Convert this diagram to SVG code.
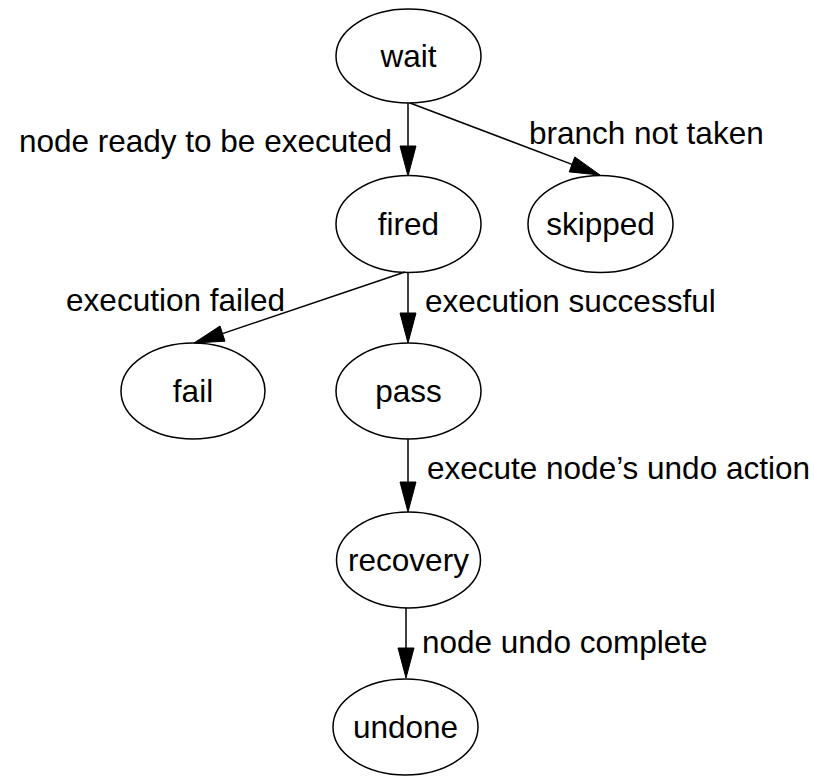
<svg xmlns="http://www.w3.org/2000/svg" width="815" height="776" viewBox="0 0 815 776">
<style>
.n ellipse{fill:none;stroke:#000;stroke-width:1.5}
text{font-family:"Liberation Sans",Arial,Helvetica,sans-serif;font-size:31.5px;fill:#000}
.n text{text-anchor:middle}
.e line{stroke:#000;stroke-width:1.5}
.e polygon{fill:#000;stroke:#000;stroke-width:1}
</style>
<rect width="815" height="776" fill="#fff"/>
<g id="edges" class="e">
<line x1="408" y1="103" x2="408" y2="146"/>
<polygon points="400,146 416,146 408,176"/>
<text x="392" y="152" text-anchor="end">node ready to be executed</text>
<line x1="410" y1="103" x2="572" y2="164.4"/>
<polygon points="569.2,171.9 574.8,156.9 600,175"/>
<text x="529" y="144">branch not taken</text>
<line x1="405" y1="272" x2="222.5" y2="333.6"/>
<polygon points="220,326 225,341.2 194,343"/>
<text x="285" y="311" text-anchor="end">execution failed</text>
<line x1="408" y1="272" x2="408" y2="313"/>
<polygon points="400,313 416,313 408,343"/>
<text x="425" y="312">execution successful</text>
<line x1="408" y1="439" x2="408" y2="482"/>
<polygon points="400,482 416,482 408,512"/>
<text x="427" y="479">execute node’s undo action</text>
<line x1="406" y1="608" x2="406" y2="648"/>
<polygon points="398,648 414,648 406,678"/>
<text x="422" y="653">node undo complete</text>
</g>
<g id="wait" class="n"><ellipse cx="408.5" cy="56" rx="72.5" ry="47"/><text x="408.5" y="67">wait</text></g>
<g id="fired" class="n"><ellipse cx="408.5" cy="224" rx="72.5" ry="48.5"/><text x="408.5" y="235">fired</text></g>
<g id="skipped" class="n"><ellipse cx="600.5" cy="224" rx="72.5" ry="48.5"/><text x="600.5" y="235">skipped</text></g>
<g id="fail" class="n"><ellipse cx="193" cy="391" rx="72" ry="48"/><text x="193" y="402">fail</text></g>
<g id="pass" class="n"><ellipse cx="408.5" cy="391" rx="72.5" ry="48"/><text x="408.5" y="402">pass</text></g>
<g id="recovery" class="n"><ellipse cx="408.5" cy="560" rx="72" ry="48"/><text x="408.5" y="571">recovery</text></g>
<g id="undone" class="n"><ellipse cx="405.5" cy="727" rx="72.5" ry="48"/><text x="405.5" y="738">undone</text></g>
</svg>
